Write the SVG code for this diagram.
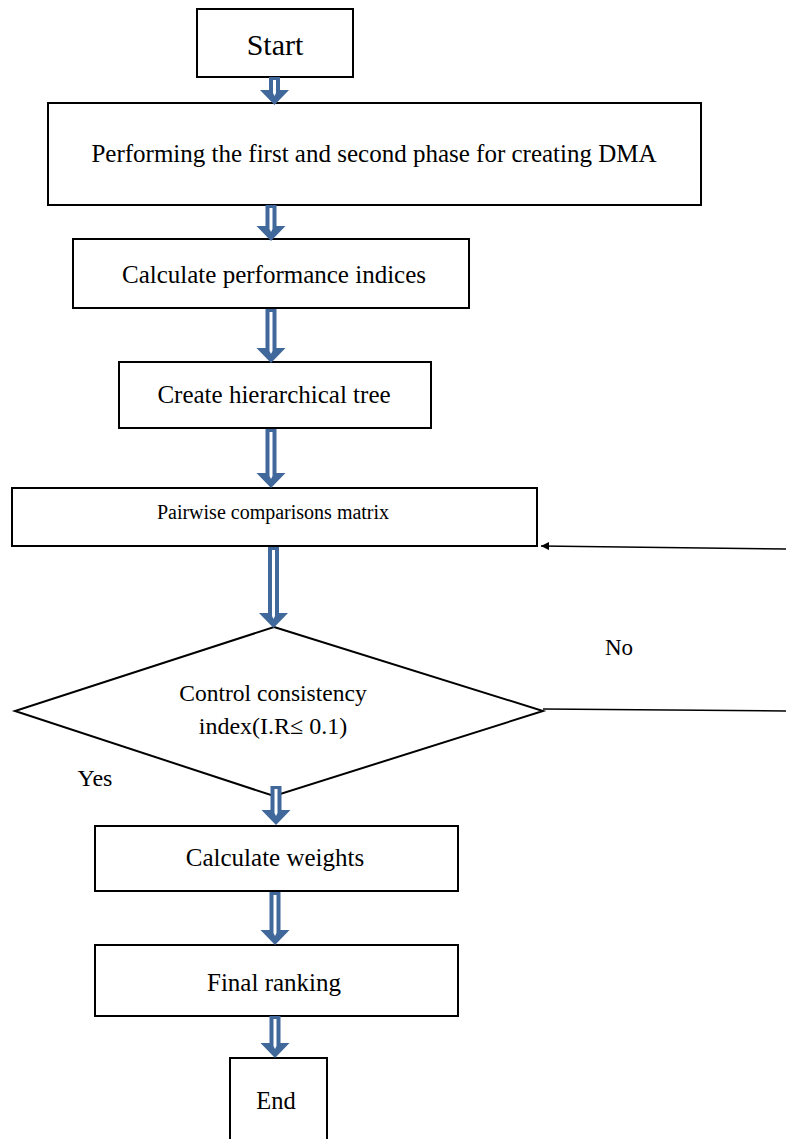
<svg xmlns="http://www.w3.org/2000/svg" width="786" height="1139" viewBox="0 0 786 1139">
<defs>
<style>
.box{fill:#fff;stroke:#000;stroke-width:2}
.t{font-family:"Liberation Serif","Times New Roman",serif;fill:#000;text-anchor:middle}
.blk{fill:none;stroke:#000;stroke-width:1.5}
.ba{fill:#41689b}
.slot{fill:#fff}
</style>
<marker id="ah" viewBox="0 0 10 10" refX="10" refY="5" markerWidth="8" markerHeight="8" markerUnits="userSpaceOnUse" orient="auto"><path d="M0,0 L10,5 L0,10 z" fill="#000"/></marker>
</defs>
<g id="start"><rect class="box" x="197" y="9" width="156" height="68"/><text class="t" x="275" y="55" font-size="30">Start</text></g>
<g id="phase"><rect class="box" x="48" y="103" width="653" height="102"/><text class="t" x="374" y="162" font-size="25">Performing the first and second phase for creating DMA</text></g>
<g id="indices"><rect class="box" x="73" y="239" width="396" height="69"/><text class="t" x="274" y="283" font-size="25">Calculate performance indices</text></g>
<g id="tree"><rect class="box" x="119" y="362" width="312" height="66"/><text class="t" x="274" y="403" font-size="25">Create hierarchical tree</text></g>
<g id="pairwise"><rect class="box" x="12" y="488" width="525" height="58"/><text class="t" x="273" y="519" font-size="20">Pairwise comparisons matrix</text></g>
<g id="control"><polygon class="box" points="274,627 543,711 274,796 15,711"/><text class="t" x="273" y="701" font-size="23.5">Control consistency</text><text class="t" x="273" y="734" font-size="24">index(I.R≤ 0.1)</text></g>
<g id="weights"><rect class="box" x="95" y="826" width="363" height="65"/><text class="t" x="275" y="866" font-size="25">Calculate weights</text></g>
<g id="ranking"><rect class="box" x="95" y="945" width="363" height="71"/><text class="t" x="274" y="991" font-size="25">Final ranking</text></g>
<g id="end"><rect class="box" x="230" y="1058" width="97" height="90"/><text class="t" x="276" y="1109" font-size="24.5">End</text></g>
<g id="connectors">
<g transform="translate(274.5,77)"><path class="ba" d="M-5.5,0 h11 v13 h9 l-14.5,15 l-14.5,-15 h9 z"/><path class="slot" d="M-1.5,3 h3 v13 l-1.5,3 l-1.5,-3 z"/></g>
<g transform="translate(271,205)"><path class="ba" d="M-5.5,0 h11 v21 h9 l-14.5,15 l-14.5,-15 h9 z"/><path class="slot" d="M-1.5,3 h3 v21 l-1.5,3 l-1.5,-3 z"/></g>
<g transform="translate(271,309)"><path class="ba" d="M-5.5,0 h11 v39 h9 l-14.5,15 l-14.5,-15 h9 z"/><path class="slot" d="M-1.5,3 h3 v39 l-1.5,3 l-1.5,-3 z"/></g>
<g transform="translate(271,429)"><path class="ba" d="M-5.5,0 h11 v44 h9 l-14.5,15 l-14.5,-15 h9 z"/><path class="slot" d="M-1.5,3 h3 v44 l-1.5,3 l-1.5,-3 z"/></g>
<g transform="translate(273.5,547)"><path class="ba" d="M-5.5,0 h11 v66 h9 l-14.5,15 l-14.5,-15 h9 z"/><path class="slot" d="M-1.5,3 h3 v66 l-1.5,3 l-1.5,-3 z"/></g>
<g transform="translate(276,786)"><path class="ba" d="M-5.5,0 h11 v24 h9 l-14.5,15 l-14.5,-15 h9 z"/><path class="slot" d="M-1.5,3 h3 v24 l-1.5,3 l-1.5,-3 z"/></g>
<g transform="translate(275,892)"><path class="ba" d="M-5.5,0 h11 v38 h9 l-14.5,15 l-14.5,-15 h9 z"/><path class="slot" d="M-1.5,3 h3 v38 l-1.5,3 l-1.5,-3 z"/></g>
<g transform="translate(275,1016)"><path class="ba" d="M-5.5,0 h11 v27 h9 l-14.5,15 l-14.5,-15 h9 z"/><path class="slot" d="M-1.5,3 h3 v27 l-1.5,3 l-1.5,-3 z"/></g>
<line class="blk" x1="543" y1="709" x2="786" y2="711"/>
<line class="blk" x1="786" y1="549" x2="541" y2="546" marker-end="url(#ah)"/>
<text class="t" x="619" y="655" font-size="23">No</text>
<text class="t" x="95" y="786" font-size="24">Yes</text>
</g>
</svg>
